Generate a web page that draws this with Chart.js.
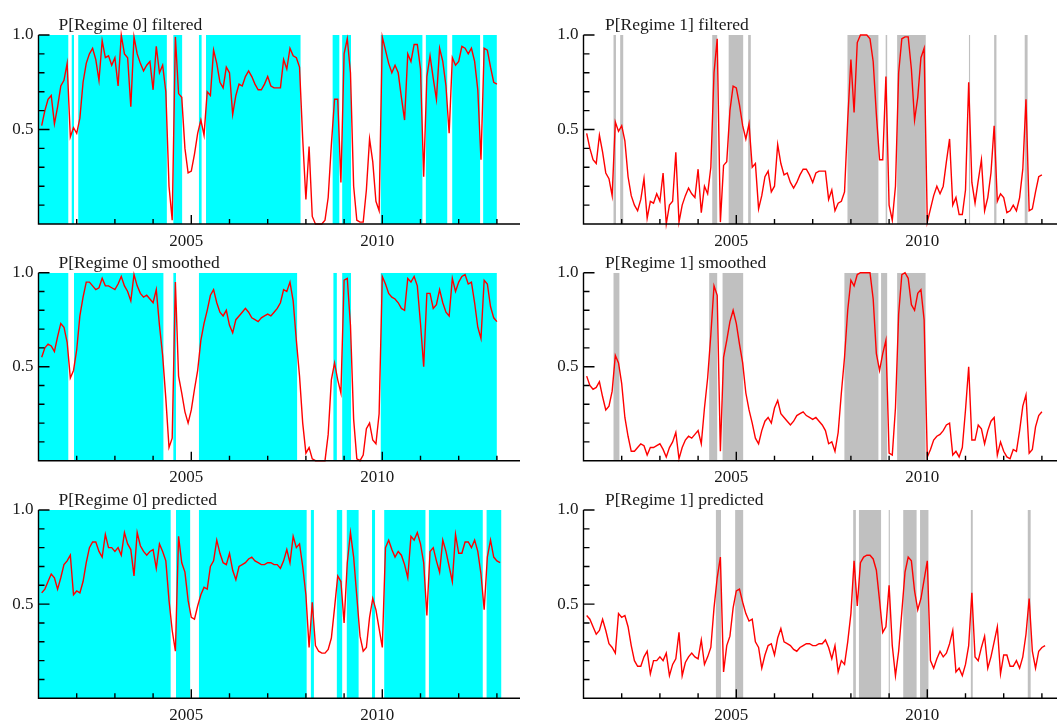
<!DOCTYPE html>
<html>
<head>
<meta charset="utf-8">
<title>Regime probabilities</title>
<script src="https://cdn.jsdelivr.net/npm/chart.js@4.4.1/dist/chart.umd.min.js"></script>
<style>
  html, body { margin: 0; padding: 0; background: #fff; }
  body { width: 1057px; height: 724px; position: relative; overflow: hidden; }
  canvas { position: absolute; }
  .ttl {
    position: absolute;
    font-family: 'Liberation Serif', 'Times New Roman', serif;
    font-size: 17.5px;
    line-height: 17.5px;
    color: #1a1a1a;
    white-space: nowrap;
  }
</style>
</head>
<body>
<script>
// monthly sample, first observation 2001(2)
const startYear = 2001;
const startMonth = 2;

const regime0Titles = ['P[Regime 0] filtered', 'P[Regime 0] smoothed', 'P[Regime 0] predicted'];
const regime1Titles = ['P[Regime 1] filtered', 'P[Regime 1] smoothed', 'P[Regime 1] predicted'];
const yTickValues = [0.5, 1.0];
const xTickValues = [2005, 2010];

const filtered0 = [
  0.52, 0.60, 0.66, 0.68, 0.53, 0.62, 0.73, 0.76, 0.85, 0.46,
  0.51, 0.48, 0.56, 0.75, 0.85, 0.90, 0.93, 0.87, 0.76, 0.97,
  0.88, 0.89, 0.84, 0.88, 0.73, 1.00, 0.90, 0.88, 0.62, 0.99,
  0.90, 0.85, 0.81, 0.84, 0.86, 0.71, 0.94, 0.80, 0.84, 0.70,
  0.20, 0.02, 0.99, 0.69, 0.67, 0.40, 0.27, 0.28, 0.37, 0.48,
  0.55, 0.47, 0.70, 0.68, 0.92, 0.85, 0.75, 0.72, 0.83, 0.80,
  0.58, 0.68, 0.74, 0.73, 0.78, 0.81, 0.78, 0.74, 0.71, 0.71,
  0.74, 0.78, 0.73, 0.72, 0.72, 0.72, 0.87, 0.82, 0.93, 0.89,
  0.88, 0.83, 0.45, 0.13, 0.41, 0.04, 0.00, 0.00, 0.00, 0.02,
  0.14, 0.42, 0.66, 0.66, 0.22, 0.90, 0.98, 0.80, 0.20, 0.02,
  0.01, 0.01, 0.18, 0.45, 0.33, 0.12, 0.07, 0.99, 0.92, 0.85,
  0.80, 0.84, 0.80, 0.67, 0.55, 0.90, 0.86, 0.95, 0.95, 0.82,
  0.25, 0.78, 0.89, 0.77, 0.66, 0.93, 0.86, 0.73, 0.48, 0.88,
  0.84, 0.86, 0.94, 0.93, 0.90, 0.93, 0.86, 0.71, 0.34, 0.93,
  0.92, 0.83, 0.75, 0.74
];
const filtered1 = [
  0.48, 0.40, 0.34, 0.32, 0.47, 0.38, 0.27, 0.24, 0.15, 0.54,
  0.49, 0.52, 0.44, 0.25, 0.15, 0.10, 0.07, 0.13, 0.24, 0.03,
  0.12, 0.11, 0.16, 0.12, 0.27, 0.00, 0.10, 0.12, 0.38, 0.01,
  0.10, 0.15, 0.19, 0.16, 0.14, 0.29, 0.06, 0.20, 0.16, 0.30,
  0.80, 0.98, 0.01, 0.31, 0.33, 0.60, 0.73, 0.72, 0.63, 0.52,
  0.45, 0.53, 0.30, 0.32, 0.08, 0.15, 0.25, 0.28, 0.17, 0.20,
  0.42, 0.32, 0.26, 0.27, 0.22, 0.19, 0.22, 0.26, 0.29, 0.29,
  0.26, 0.22, 0.27, 0.28, 0.28, 0.28, 0.13, 0.18, 0.07, 0.11,
  0.12, 0.17, 0.55, 0.87, 0.59, 0.96, 1.00, 1.00, 1.00, 0.98,
  0.86, 0.58, 0.34, 0.34, 0.78, 0.10, 0.02, 0.20, 0.80, 0.98,
  0.99, 0.99, 0.82, 0.55, 0.67, 0.88, 0.93, 0.01, 0.08, 0.15,
  0.20, 0.16, 0.20, 0.33, 0.45, 0.10, 0.14, 0.05, 0.05, 0.18,
  0.75, 0.22, 0.11, 0.23, 0.34, 0.07, 0.14, 0.27, 0.52, 0.12,
  0.16, 0.14, 0.06, 0.07, 0.10, 0.07, 0.14, 0.29, 0.66, 0.07,
  0.08, 0.17, 0.25, 0.26
];

const smoothed0 = [
  0.55, 0.60, 0.62, 0.61, 0.58, 0.66, 0.73, 0.71, 0.63, 0.44,
  0.48, 0.59, 0.77, 0.87, 0.95, 0.95, 0.93, 0.91, 0.92, 0.97,
  0.93, 0.93, 0.92, 0.91, 0.94, 0.98, 0.93, 0.90, 0.85, 0.99,
  0.93, 0.89, 0.87, 0.88, 0.86, 0.84, 0.91, 0.72, 0.56, 0.33,
  0.07, 0.12, 0.95, 0.45, 0.36, 0.26, 0.20, 0.27, 0.38, 0.48,
  0.64, 0.73, 0.80, 0.88, 0.91, 0.84, 0.79, 0.77, 0.80, 0.72,
  0.68, 0.75, 0.77, 0.79, 0.81, 0.79, 0.76, 0.75, 0.74, 0.76,
  0.77, 0.78, 0.77, 0.79, 0.81, 0.84, 0.91, 0.90, 0.95, 0.85,
  0.64, 0.45, 0.20, 0.04, 0.07, 0.01, 0.00, 0.00, 0.00, 0.00,
  0.14, 0.43, 0.52, 0.43, 0.36, 0.96, 0.97, 0.72, 0.22, 0.01,
  0.00, 0.03, 0.17, 0.20, 0.11, 0.09, 0.25, 0.98, 0.94, 0.89,
  0.87, 0.86, 0.84, 0.81, 0.80, 0.97, 0.95, 0.98, 0.93, 0.73,
  0.50, 0.89, 0.89, 0.81, 0.83, 0.91, 0.84, 0.79, 0.77, 0.97,
  0.90, 0.95, 0.98, 0.99, 0.94, 0.95, 0.84, 0.71, 0.65, 0.96,
  0.94, 0.82, 0.76, 0.74
];
const smoothed1 = [
  0.45, 0.40, 0.38, 0.39, 0.42, 0.34, 0.27, 0.29, 0.37, 0.56,
  0.52, 0.41, 0.23, 0.13, 0.05, 0.05, 0.07, 0.09, 0.08, 0.03,
  0.07, 0.07, 0.08, 0.09, 0.06, 0.02, 0.07, 0.10, 0.15, 0.01,
  0.07, 0.11, 0.13, 0.12, 0.14, 0.16, 0.09, 0.28, 0.44, 0.67,
  0.93, 0.88, 0.05, 0.55, 0.64, 0.74, 0.80, 0.73, 0.62, 0.52,
  0.36, 0.27, 0.20, 0.12, 0.09, 0.16, 0.21, 0.23, 0.20, 0.28,
  0.32, 0.25, 0.23, 0.21, 0.19, 0.21, 0.24, 0.25, 0.26, 0.24,
  0.23, 0.22, 0.23, 0.21, 0.19, 0.16, 0.09, 0.10, 0.05, 0.15,
  0.36, 0.55, 0.80, 0.96, 0.93, 0.99, 1.00, 1.00, 1.00, 1.00,
  0.86, 0.57, 0.48, 0.57, 0.64, 0.04, 0.03, 0.28, 0.78, 0.99,
  1.00, 0.97, 0.83, 0.80, 0.89, 0.91, 0.75, 0.02, 0.06, 0.11,
  0.13, 0.14, 0.16, 0.19, 0.20, 0.03, 0.05, 0.02, 0.07, 0.27,
  0.50, 0.11, 0.11, 0.19, 0.17, 0.09, 0.16, 0.21, 0.23, 0.03,
  0.10, 0.05, 0.02, 0.01, 0.06, 0.05, 0.16, 0.29, 0.35, 0.04,
  0.06, 0.18, 0.24, 0.26
];

// predicted runs one month further than filtered / smoothed
const predicted0 = [
  0.56, 0.58, 0.62, 0.66, 0.64, 0.58, 0.64, 0.71, 0.73, 0.76,
  0.55, 0.57, 0.56, 0.62, 0.72, 0.80, 0.83, 0.83, 0.78, 0.75,
  0.87, 0.80, 0.80, 0.78, 0.80, 0.76, 0.88, 0.82, 0.79, 0.65,
  0.88, 0.81, 0.78, 0.76, 0.78, 0.79, 0.69, 0.82, 0.78, 0.73,
  0.52, 0.36, 0.25, 0.86, 0.72, 0.67, 0.52, 0.43, 0.42, 0.49,
  0.55, 0.59, 0.58, 0.70, 0.73, 0.84, 0.77, 0.72, 0.71, 0.77,
  0.68, 0.63, 0.70, 0.71, 0.72, 0.74, 0.75, 0.73, 0.72, 0.71,
  0.71, 0.72, 0.72, 0.71, 0.71, 0.69, 0.73, 0.79, 0.72, 0.86,
  0.80, 0.82, 0.70, 0.55, 0.27, 0.51, 0.28, 0.25, 0.24, 0.24,
  0.26, 0.32, 0.48, 0.65, 0.62, 0.40, 0.72, 0.88, 0.75, 0.54,
  0.33, 0.25, 0.27, 0.43, 0.53, 0.47, 0.37, 0.27, 0.80, 0.84,
  0.79, 0.75, 0.78, 0.76, 0.71, 0.64, 0.86, 0.84, 0.88, 0.82,
  0.72, 0.44, 0.78, 0.80, 0.73, 0.67, 0.84, 0.78, 0.70, 0.62,
  0.87, 0.77, 0.77, 0.83, 0.83, 0.80, 0.84, 0.78, 0.66, 0.47,
  0.75, 0.84, 0.75, 0.73, 0.72
];
const predicted1 = [
  0.44, 0.42, 0.38, 0.34, 0.36, 0.42, 0.36, 0.29, 0.27, 0.24,
  0.45, 0.43, 0.44, 0.38, 0.28, 0.20, 0.17, 0.17, 0.22, 0.25,
  0.13, 0.20, 0.20, 0.22, 0.20, 0.24, 0.12, 0.18, 0.21, 0.35,
  0.12, 0.19, 0.22, 0.24, 0.22, 0.21, 0.31, 0.18, 0.22, 0.27,
  0.48, 0.64, 0.75, 0.14, 0.28, 0.33, 0.48, 0.57, 0.58, 0.51,
  0.45, 0.41, 0.42, 0.30, 0.27, 0.16, 0.23, 0.28, 0.29, 0.23,
  0.32, 0.37, 0.30, 0.29, 0.28, 0.26, 0.25, 0.27, 0.28, 0.29,
  0.29, 0.28, 0.28, 0.29, 0.29, 0.31, 0.27, 0.21, 0.28, 0.14,
  0.20, 0.18, 0.30, 0.45, 0.73, 0.49, 0.72, 0.75, 0.76, 0.76,
  0.74, 0.68, 0.52, 0.35, 0.38, 0.60, 0.28, 0.12, 0.25, 0.46,
  0.67, 0.75, 0.73, 0.57, 0.47, 0.53, 0.63, 0.73, 0.20, 0.16,
  0.21, 0.25, 0.22, 0.24, 0.29, 0.36, 0.14, 0.16, 0.12, 0.18,
  0.28, 0.56, 0.22, 0.20, 0.27, 0.33, 0.16, 0.22, 0.30, 0.38,
  0.13, 0.23, 0.23, 0.17, 0.17, 0.20, 0.16, 0.22, 0.34, 0.53,
  0.25, 0.16, 0.25, 0.27, 0.28
];

// shaded periods (decimal years) where the regime is classified
const filteredBand0 = [[2001.0, 2001.78], [2001.87, 2001.93], [2002.04, 2004.36], [2004.53, 2004.76],
  [2005.20, 2005.27], [2005.385, 2007.86], [2008.70, 2008.875], [2008.95, 2009.18],
  [2009.96, 2011.05], [2011.14, 2011.70], [2011.83, 2012.56], [2012.64, 2013.0]];
const filteredBand1 = [[2001.78, 2001.85], [2001.96, 2002.04], [2004.37, 2004.50], [2004.80, 2005.18],
  [2005.31, 2005.38], [2007.91, 2008.72], [2008.91, 2008.95], [2009.21, 2009.96],
  [2011.09, 2011.12], [2011.75, 2011.81], [2012.55, 2012.63]];
const smoothedBand0 = [[2001.0, 2001.78], [2001.93, 2004.27], [2004.53, 2004.60], [2005.20, 2007.77],
  [2008.72, 2008.81], [2008.95, 2009.18], [2009.96, 2013.0]];
const smoothedBand1 = [[2001.78, 2001.94], [2004.29, 2004.50], [2004.64, 2005.18], [2007.83, 2008.72],
  [2008.79, 2008.95], [2009.21, 2009.96]];
const predictedBand0 = [[2001.0, 2004.46], [2004.60, 2004.97], [2005.20, 2008.02], [2008.13, 2008.21],
  [2008.81, 2008.95], [2009.07, 2009.38], [2009.73, 2009.81], [2010.05, 2011.13],
  [2011.22, 2012.63], [2012.73, 2013.12]];
const predictedBand1 = [[2004.46, 2004.60], [2004.97, 2005.18], [2008.06, 2008.13], [2008.21, 2008.79],
  [2008.99, 2009.02], [2009.37, 2009.72], [2009.81, 2010.03], [2011.14, 2011.19], [2012.63, 2012.71]];

// page layout
const rows = [
  { top: 35, bottom: 224 },
  { top: 272.7, bottom: 460.7 },
  { top: 510, bottom: 698.3 }
];
const cols = [
  { canvasLeft: 0, width: 530, plotLeft: 38.5, plotRight: 520, band: '#00ffff', titleDx: 20 },
  { canvasLeft: 545, width: 512, plotLeft: 583.5, plotRight: 1057, band: '#c0c0c0', titleDx: 21.5 }
];
const pxPerYear = 38.2;
const fontFamily = "'Liberation Serif', 'Times New Roman', serif";

function monthDates(count) {
  const out = [];
  for (let i = 0; i < count; i++) {
    out.push(startYear + (startMonth - 1 + i) / 12);
  }
  return out;
}

function bandPoints(intervals) {
  const pts = [];
  intervals.forEach(([a, b]) => {
    pts.push({ x: a, y: 0 }, { x: a, y: 1 }, { x: b, y: 1 }, { x: b, y: 0 });
  });
  return pts;
}

// axis lines and inward tick marks, like the original graphics package
const axisTicks = {
  id: 'axisTicks',
  afterDatasetsDraw(chart) {
    const { ctx, chartArea: a, scales: { x, y } } = chart;
    ctx.save();
    ctx.strokeStyle = '#000';
    ctx.lineWidth = 1.4;
    ctx.beginPath();
    ctx.moveTo(a.left, a.top);
    ctx.lineTo(a.left, a.bottom);
    ctx.lineTo(a.right, a.bottom);
    for (let k = 1; k <= 10; k++) {
      const py = y.getPixelForValue(k / 10);
      const len = k % 5 === 0 ? 11 : 6;
      ctx.moveTo(a.left, py);
      ctx.lineTo(a.left + len, py);
    }
    for (let yr = 2002; yr <= 2013; yr++) {
      const px = x.getPixelForValue(yr);
      const len = yr % 5 === 0 ? 9 : 5;
      ctx.moveTo(px, a.bottom);
      ctx.lineTo(px, a.bottom - len);
    }
    ctx.stroke();
    ctx.restore();
  }
};

function drawPanel(row, col, values, bands, title) {
  const canvasTop = Math.floor(row.top) - 35;
  const height = Math.ceil(row.bottom) - canvasTop + 30;
  const axisH = height - (row.bottom - canvasTop);
  const yAxisW = col.plotLeft - col.canvasLeft;
  const xMax = startYear + (col.plotRight - col.plotLeft) / pxPerYear;

  const canvas = document.createElement('canvas');
  canvas.width = col.width;
  canvas.height = height;
  canvas.style.left = col.canvasLeft + 'px';
  canvas.style.top = canvasTop + 'px';
  document.body.appendChild(canvas);

  const dates = monthDates(values.length);

  const chart = new Chart(canvas, {
    type: 'line',
    data: {
      datasets: [
        {
          data: dates.map((d, i) => ({ x: d, y: values[i] })),
          borderColor: '#ff0000',
          borderWidth: 1.4,
          pointRadius: 0,
          tension: 0,
          fill: false,
          clip: false,
          order: 1
        },
        {
          data: bandPoints(bands),
          borderColor: 'rgba(0,0,0,0)',
          borderWidth: 0,
          backgroundColor: col.band,
          fill: 'origin',
          pointRadius: 0,
          tension: 0,
          order: 2
        }
      ]
    },
    options: {
      responsive: false,
      animation: false,
      events: [],
      layout: {
        padding: {
          top: row.top - canvasTop,
          right: col.canvasLeft + col.width - col.plotRight,
          left: 0,
          bottom: 0
        }
      },
      plugins: { legend: { display: false }, tooltip: { enabled: false } },
      scales: {
        x: {
          type: 'linear',
          min: startYear,
          max: xMax,
          grid: { display: false, drawTicks: false },
          border: { display: false },
          afterBuildTicks: (scale) => { scale.ticks = xTickValues.map((v) => ({ value: v })); },
          afterFit: (scale) => { scale.height = axisH; },
          ticks: {
            autoSkip: false,
            maxRotation: 0,
            padding: 7,
            labelOffset: -5,
            color: '#1a1a1a',
            font: { family: fontFamily, size: 17 },
            callback: (v) => String(v)
          }
        },
        y: {
          type: 'linear',
          min: 0,
          max: 1,
          grid: { display: false, drawTicks: false },
          border: { display: false },
          afterBuildTicks: (scale) => { scale.ticks = yTickValues.map((v) => ({ value: v })); },
          afterFit: (scale) => { scale.width = yAxisW; },
          ticks: {
            padding: 5,
            color: '#1a1a1a',
            font: { family: fontFamily, size: 17 },
            callback: (v) => Number(v).toFixed(1)
          }
        }
      }
    },
    plugins: [axisTicks]
  });

  const t = document.createElement('div');
  t.className = 'ttl';
  t.textContent = title;
  t.style.left = (col.plotLeft + col.titleDx) + 'px';
  t.style.top = (row.top - 18.95) + 'px';
  document.body.appendChild(t);
  return chart;
}

const regime0Series = [filtered0, smoothed0, predicted0];
const regime1Series = [filtered1, smoothed1, predicted1];
const regime0Bands = [filteredBand0, smoothedBand0, predictedBand0];
const regime1Bands = [filteredBand1, smoothedBand1, predictedBand1];

rows.forEach((row, r) => {
  drawPanel(row, cols[0], regime0Series[r], regime0Bands[r], regime0Titles[r]);
  drawPanel(row, cols[1], regime1Series[r], regime1Bands[r], regime1Titles[r]);
});
</script>
</body>
</html>
